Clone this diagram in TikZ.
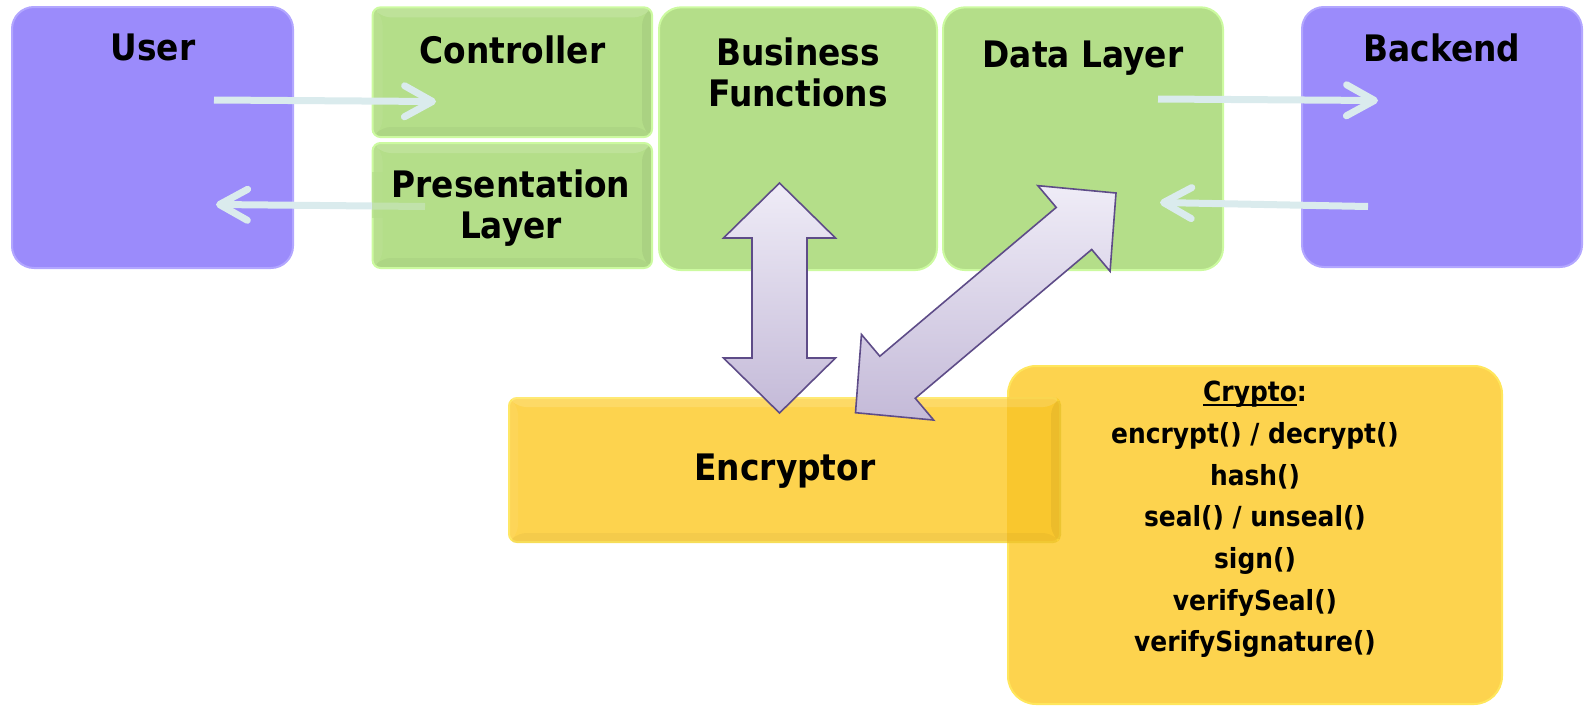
\documentclass[tikz,border=0pt]{standalone}
\usepackage{fontspec}
\setmainfont{DejaVu Sans}[FakeStretch=0.9]
\usetikzlibrary{arrows.meta,calc}

\definecolor{purplefill}{RGB}{155,139,251}
\definecolor{purpleedge}{RGB}{178,166,255}
\definecolor{greenfill}{RGB}{180,222,137}
\definecolor{greenedge}{RGB}{204,250,160}
\definecolor{yellowfill}{RGB}{253,211,78}
\definecolor{yellowedge}{RGB}{255,230,92}
\definecolor{yellowdeep}{RGB}{246,190,20}
\definecolor{flowline}{RGB}{218,235,237}
\definecolor{dblfilltop}{RGB}{239,236,247}
\definecolor{dblfillbot}{RGB}{196,186,216}
\definecolor{dbledge}{RGB}{94,76,136}

% underline that sits just under the baseline
\newcommand\ulword[1]{\setbox0\hbox{#1}\rlap{\rule[-4pt]{\wd0}{1.8pt}}\box0}

% double-headed block arrow between two named points
\newcommand\blockarrow[2]{%
  \coordinate (dh1) at ($(#1)!55pt!(#2)$);
  \coordinate (dh2) at ($(#2)!55pt!(#1)$);
  \draw[dblarrow] (#1)
    -- ($(dh1)!56pt!90:(#2)$) -- ($(dh1)!27.5pt!90:(#2)$)
    -- ($(dh2)!27.5pt!-90:(#1)$) -- ($(dh2)!56pt!-90:(#1)$)
    -- (#2)
    -- ($(dh2)!56pt!90:(#1)$) -- ($(dh2)!27.5pt!90:(#1)$)
    -- ($(dh1)!27.5pt!-90:(#2)$) -- ($(dh1)!56pt!-90:(#2)$)
    -- cycle;}

\tikzset{
  bevel/.style={path picture={
    \path (path picture bounding box.north west) coordinate (bv-nw)
          (path picture bounding box.north east) coordinate (bv-ne)
          (path picture bounding box.south west) coordinate (bv-sw)
          (path picture bounding box.south east) coordinate (bv-se);
    \path ([shift={(10pt,-10pt)}]bv-nw) coordinate (bi-nw)
          ([shift={(-10pt,-10pt)}]bv-ne) coordinate (bi-ne)
          ([shift={(10pt,10pt)}]bv-sw) coordinate (bi-sw)
          ([shift={(-10pt,10pt)}]bv-se) coordinate (bi-se);
    \fill[white,opacity=.14] (bv-nw)--(bv-ne)--(bi-ne)--(bi-nw)--cycle;
    \fill[white,opacity=.06] (bv-nw)--(bi-nw)--(bi-sw)--(bv-sw)--cycle;
    \fill[black,opacity=.035] (bv-sw)--(bi-sw)--(bi-se)--(bv-se)--cycle;
    \fill[black,opacity=.05] (bv-ne)--(bv-se)--(bi-se)--(bi-ne)--cycle;
  }},
  box/.style={rectangle, inner sep=0pt, line width=2pt},
  userbox/.style={box, fill=purplefill, draw=purpleedge, rounded corners=22pt},
  tierbox/.style={box, fill=greenfill, draw=greenedge, rounded corners=22pt},
  slimbox/.style={box, fill=greenfill, draw=greenedge, rounded corners=8pt, bevel},
  encbox/.style={box, fill=yellowfill, draw=yellowedge, rounded corners=8pt},
  cryptobox/.style={box, fill=yellowfill, draw=yellowedge, rounded corners=28pt},
  lbl/.style={font=\fontsize{36.5}{41}\selectfont\bfseries, inner sep=0pt,
    anchor=base, align=center},
  smalllbl/.style={lbl, font=\fontsize{27.7}{41.67}\selectfont\bfseries},
  flow/.style={draw=flowline, line width=7pt,
    -{Straight Barb[length=28pt, width=31pt, round]}},
  dblarrow/.style={draw=dbledge, line width=1.6pt, line join=miter,
    top color=dblfilltop, bottom color=dblfillbot},
}

\begin{document}
\begin{tikzpicture}[x=1pt, y=-1pt]
\useasboundingbox (0,0) rectangle (1584,707);

% tiers
\node[userbox, minimum width=281pt, minimum height=261pt] (user) at (152.5,137.5) {};
\node[slimbox, minimum width=279.5pt, minimum height=129.7pt] (ctrl) at (512.3,72.2) {};
\node[slimbox, minimum width=279.5pt, minimum height=125pt] (pres) at (512.3,205.5) {};
\node[tierbox, minimum width=278pt, minimum height=262.7pt] (biz) at (798,138.7) {};
\node[tierbox, minimum width=280pt, minimum height=262.7pt] (data) at (1083,138.7) {};
\node[userbox, minimum width=280pt, minimum height=260pt] (backend) at (1442,137) {};

% response path; the part inside the presentation tier is veiled by it
\coordinate (pres-out) at (425,206.5);
\coordinate (user-in) at (216,204.5);
\draw[flow] (pres-out) -- (user-in);
\begin{scope}
  \clip[rounded corners=8pt] (pres.north west) rectangle (pres.south east);
  \fill[greenfill, opacity=0.65] ([shift={(0pt,-12pt)}]pres.west) rectangle ([shift={(-120pt,-30pt)}]pres.north east);
\end{scope}

% crypto services and encryptor
\node[cryptobox, minimum width=494pt, minimum height=338pt] (crypto) at (1255,535) {};
\node[encbox, minimum width=551pt, minimum height=144pt] (enc) at (784.5,470) {};
\begin{scope}
  \clip[rounded corners=28pt] (crypto.north west) rectangle (crypto.south east);
  \fill[yellowdeep, opacity=0.55, rounded corners=8pt] (enc.north west) rectangle (enc.south east);
\end{scope}
\path[bevel, rounded corners=8pt] (enc.north west) rectangle (enc.south east);

% labels
\node[lbl] (user-t) at (153,60.7) {User};
\node[lbl] (ctrl-t) at (512.6,63.3) {Controller};
\node[lbl] (biz-t) at (798,106.7) {Business\\Functions};
\node[lbl] (data-t) at (1083,67) {Data Layer};
\node[lbl] (backend-t) at (1442,61) {Backend};
\node[lbl] (pres-t) at (511,238) {Presentation\\Layer};
\node[lbl] (enc-t) at (785,480) {Encryptor};
\node[smalllbl] (crypto-t) at (1255,651.7) {\ulword{Crypto}:\\encrypt() / decrypt()\\hash()\\seal() / unseal()\\sign()\\verifySeal()\\verifySignature()};

% request / response flows
\coordinate (user-out) at (214,100);
\coordinate (ctrl-in) at (436,101.5);
\draw[flow] (user-out) -- (ctrl-in);
\coordinate (data-out) at (1158,99);
\coordinate (backend-in) at (1378,100.5);
\draw[flow] (data-out) -- (backend-in);
\coordinate (backend-out) at (1368,206.5);
\coordinate (data-in) at (1160,202.5);
\draw[flow] (backend-out) -- (data-in);

% encryptor links
\coordinate (biz-tip) at (779.5,183);
\coordinate (enc-tip1) at (779.5,413);
\blockarrow{biz-tip}{enc-tip1}
\coordinate (data-tip) at (1116,193);
\coordinate (enc-tip2) at (855.5,412.7);
\blockarrow{data-tip}{enc-tip2}
\end{tikzpicture}
\end{document}
